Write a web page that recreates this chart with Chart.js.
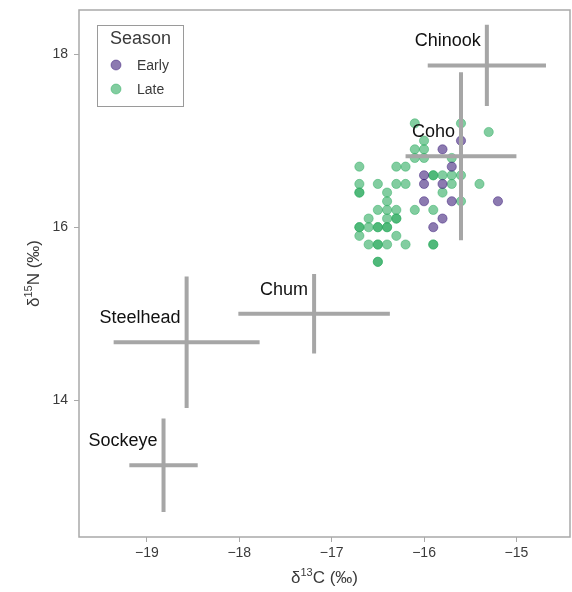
<!DOCTYPE html>
<html>
<head>
<meta charset="utf-8">
<script src="https://cdn.jsdelivr.net/npm/chart.js@4.4.1/dist/chart.umd.min.js"></script>
<style>
  html, body { margin: 0; padding: 0; background: #fff; }
</style>
</head>
<body>
<canvas id="chart" width="572" height="592"></canvas>
<script>
// ---- data ------------------------------------------------------------------
// individual fish, early season
const earlyC = [-15.6, -15.8, -15.7, -16.0, -16.0, -15.8, -16.0, -15.7, -15.2, -15.8, -15.9];
const earlyN = [17.0, 16.9, 16.7, 16.6, 16.5, 16.5, 16.3, 16.3, 16.3, 16.1, 16.0];

// individual fish, late season (duplicates are overlapping points)
const lateC = [
  -16.1, -15.6,
  -15.3,
  -16.0,
  -16.1, -16.0,
  -16.1, -16.0, -15.7,
  -16.7, -16.3, -16.2,
  -15.9, -15.9, -15.8, -15.7, -15.6,
  -16.7, -16.5, -16.3, -16.2, -15.7, -15.4,
  -16.7, -16.7, -16.4, -15.8,
  -16.4, -15.6,
  -16.5, -16.4, -16.3, -16.1, -15.9,
  -16.6, -16.4, -16.3, -16.3,
  -16.7, -16.7, -16.6, -16.5, -16.5, -16.4, -16.4,
  -16.7, -16.3,
  -16.6, -16.5, -16.5, -16.4, -16.2, -15.9, -15.9,
  -16.5, -16.5,
];
const lateN = [
  17.2, 17.2,
  17.1,
  17.0,
  16.9, 16.9,
  16.8, 16.8, 16.8,
  16.7, 16.7, 16.7,
  16.6, 16.6, 16.6, 16.6, 16.6,
  16.5, 16.5, 16.5, 16.5, 16.5, 16.5,
  16.4, 16.4, 16.4, 16.4,
  16.3, 16.3,
  16.2, 16.2, 16.2, 16.2, 16.2,
  16.1, 16.1, 16.1, 16.1,
  16.0, 16.0, 16.0, 16.0, 16.0, 16.0, 16.0,
  15.9, 15.9,
  15.8, 15.8, 15.8, 15.8, 15.8, 15.8, 15.8,
  15.6, 15.6,
];

// prey / reference species: mean +- SD
const species = ['Chinook', 'Coho', 'Chum', 'Steelhead', 'Sockeye'];
const meanC = [-15.32, -15.60, -17.19, -18.57, -18.82];
const sdC   = [0.64, 0.60, 0.82, 0.79, 0.37];
const meanN = [17.87, 16.82, 15.00, 14.67, 13.25];
const sdN   = [0.47, 0.97, 0.46, 0.76, 0.54];

const xTicks = [-19, -18, -17, -16, -15];
const yTicks = [14, 16, 18];

// ---- styles ----------------------------------------------------------------
const FONT = "'Liberation Sans', Arial, sans-serif";
const COLORS = {
  early: 'rgba(50, 18, 115, 0.56)',
  late: 'rgba(47, 172, 97, 0.6)',
  cross: '#a6a6a6',
  frame: '#a9a9a9',
  text: '#3a3a3a',
  label: '#111111',
};

const toPoints = (xs, ys) => xs.map((v, i) => ({ x: v, y: ys[i] }));
const fmt = v => String(v).replace('-', '\u2212');

// "δ" + superscript + rest, centred on (0, 0) of the current transform
function drawIsotopeTitle(ctx, sup, rest) {
  ctx.font = `17px ${FONT}`;
  const wD = ctx.measureText('δ').width;
  const wR = ctx.measureText(rest).width;
  ctx.font = `11px ${FONT}`;
  const wS = ctx.measureText(sup).width;
  let x0 = -(wD + wS + wR) / 2;
  ctx.textAlign = 'left';
  ctx.textBaseline = 'alphabetic';
  ctx.font = `17px ${FONT}`;
  ctx.fillText('δ', x0, 6);
  ctx.font = `11px ${FONT}`;
  ctx.fillText(sup, x0 + wD, -1);
  ctx.font = `17px ${FONT}`;
  ctx.fillText(rest, x0 + wD + wS, 6);
}

// crosses, species labels, frame, axis titles and legend
const overlay = {
  id: 'overlay',
  afterDatasetsDraw(chart) {
    const { ctx, chartArea: a } = chart;
    const x = chart.scales.x, y = chart.scales.y;
    ctx.save();

    ctx.strokeStyle = COLORS.cross;
    ctx.lineWidth = 4;
    ctx.font = `18px ${FONT}`;
    ctx.fillStyle = COLORS.label;
    ctx.textAlign = 'right';
    ctx.textBaseline = 'middle';
    species.forEach((name, i) => {
      const cx = x.getPixelForValue(meanC[i]);
      const cy = y.getPixelForValue(meanN[i]);
      ctx.beginPath();
      ctx.moveTo(x.getPixelForValue(meanC[i] - sdC[i]), cy);
      ctx.lineTo(x.getPixelForValue(meanC[i] + sdC[i]), cy);
      ctx.moveTo(cx, y.getPixelForValue(meanN[i] - sdN[i]));
      ctx.lineTo(cx, y.getPixelForValue(meanN[i] + sdN[i]));
      ctx.stroke();
      ctx.fillText(name, cx - 6, cy - 24);
    });

    // frame
    ctx.strokeStyle = COLORS.frame;
    ctx.lineWidth = 1.5;
    ctx.strokeRect(a.left, a.top, a.right - a.left, a.bottom - a.top);

    // axis titles
    ctx.fillStyle = COLORS.text;
    ctx.save();
    ctx.translate((a.left + a.right) / 2, 577);
    drawIsotopeTitle(ctx, '13', 'C (‰)');
    ctx.restore();
    ctx.save();
    ctx.translate(33, (a.top + a.bottom) / 2);
    ctx.rotate(-Math.PI / 2);
    drawIsotopeTitle(ctx, '15', 'N (‰)');
    ctx.restore();

    // legend box
    const lx = a.left + 18, ly = a.top + 15;
    ctx.fillStyle = '#fff';
    ctx.fillRect(lx, ly, 86, 81);
    ctx.strokeStyle = '#9a9a9a';
    ctx.lineWidth = 1;
    ctx.strokeRect(lx + 0.5, ly + 0.5, 86, 81);
    ctx.fillStyle = COLORS.text;
    ctx.textAlign = 'left';
    ctx.textBaseline = 'middle';
    ctx.font = `18px ${FONT}`;
    ctx.fillText('Season', lx + 13, ly + 14);
    ctx.font = `14px ${FONT}`;
    chart.data.datasets.forEach((ds, i) => {
      const yy = ly + 40 + i * 24;
      ctx.beginPath();
      ctx.arc(lx + 19, yy, 5, 0, Math.PI * 2);
      ctx.fillStyle = ds.backgroundColor;
      ctx.fill();
      ctx.strokeStyle = ds.borderColor;
      ctx.lineWidth = 0.8;
      ctx.stroke();
      ctx.fillStyle = COLORS.text;
      ctx.fillText(ds.label, lx + 40, yy + 1);
    });
    ctx.restore();
  },
};

new Chart(document.getElementById('chart'), {
  type: 'scatter',
  data: {
    datasets: [
      {
        label: 'Early',
        data: toPoints(earlyC, earlyN),
        backgroundColor: COLORS.early,
        borderColor: COLORS.early,
        borderWidth: 0.8,
        pointRadius: 4.6,
      },
      {
        label: 'Late',
        data: toPoints(lateC, lateN),
        backgroundColor: COLORS.late,
        borderColor: COLORS.late,
        borderWidth: 0.8,
        pointRadius: 4.6,
      },
    ],
  },
  options: {
    responsive: false,
    animation: false,
    layout: { autoPadding: false, padding: { top: 10, right: 2, left: 0, bottom: 0 } },
    plugins: { legend: { display: false }, tooltip: { enabled: false } },
    scales: {
      x: {
        type: 'linear',
        min: -19.735,
        max: -14.42,
        afterFit: s => { s.height = 55; s.paddingLeft = 0; s.paddingRight = 0; },
        afterBuildTicks: s => { s.ticks = xTicks.map(v => ({ value: v })); },
        border: { display: false },
        grid: { drawOnChartArea: false, drawTicks: true, tickLength: 5, color: COLORS.frame },
        ticks: { color: COLORS.text, font: { family: FONT, size: 14 }, padding: 3, callback: fmt },
        title: { display: false },
      },
      y: {
        type: 'linear',
        min: 12.42,
        max: 18.51,
        afterFit: s => { s.width = 79; s.paddingTop = 0; s.paddingBottom = 0; },
        afterBuildTicks: s => { s.ticks = yTicks.map(v => ({ value: v })); },
        border: { display: false },
        grid: { drawOnChartArea: false, drawTicks: true, tickLength: 5, color: COLORS.frame },
        ticks: { color: COLORS.text, font: { family: FONT, size: 14 }, padding: 6, callback: fmt },
        title: { display: false },
      },
    },
  },
  plugins: [overlay],
});
</script>
</body>
</html>
